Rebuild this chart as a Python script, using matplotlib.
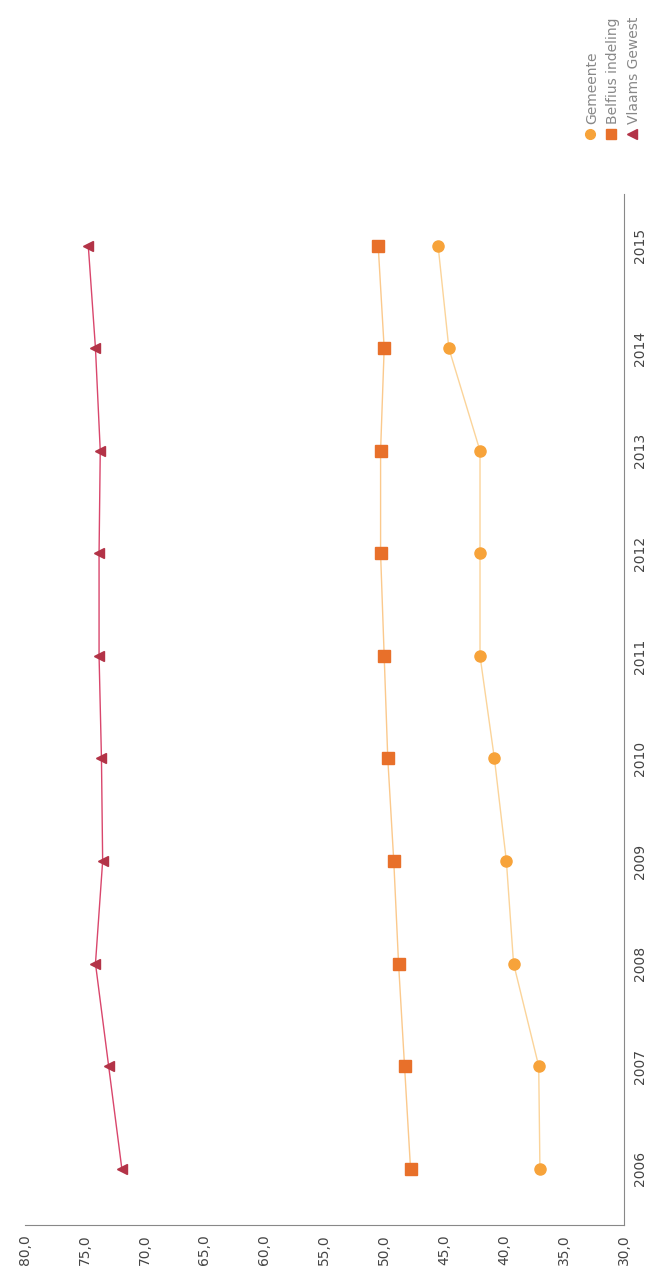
import matplotlib.pyplot as plt
from matplotlib.ticker import FixedLocator, FuncFormatter

# données (graphique tourné de 90°)
years = [2006, 2007, 2008, 2009, 2010, 2011, 2012, 2013, 2014, 2015]
gemeente = [37.0, 37.1, 39.2, 39.8, 40.8, 42.0, 42.0, 42.0, 44.6, 45.5]
belfius = [47.8, 48.3, 48.8, 49.2, 49.7, 50.0, 50.3, 50.3, 50.0, 50.5]
vlaams = [71.9, 73.0, 74.1, 73.5, 73.6, 73.8, 73.8, 73.7, 74.1, 74.7]
labels = ["Gemeente", "Belfius indeling", "Vlaams Gewest"]
value_ticks = [30, 35, 40, 45, 50, 55, 60, 65, 70, 75, 80]

fig = plt.figure(figsize=(6.7, 12.77), dpi=100)
ax = fig.add_axes([0.037, 0.0407, 0.894, 0.807])

ax.plot(gemeente, years, color='#fbd49a', lw=1.0, marker='o', ms=8,
        mfc='#f7a33a', mec='#f7a33a', zorder=3)
ax.plot(belfius, years, color='#fbc98c', lw=1.0, marker='s', ms=8,
        mfc='#e8702a', mec='#e8702a', zorder=3)
ax.plot(vlaams, years, color='#d9466c', lw=1.0, marker='<', ms=7,
        mfc='#b33347', mec='#b33347', zorder=3)

ax.set_xlim(80, 30)
ax.set_ylim(2005.45, 2015.5)

ax.xaxis.set_major_locator(FixedLocator(value_ticks))
ax.xaxis.set_major_formatter(FuncFormatter(lambda v, p: f"{v:.1f}".replace('.', ',')))
ax.set_yticks(years)
ax.yaxis.tick_right()

for lab in ax.get_xticklabels():
    lab.set_rotation(90)
    lab.set_va('top')
    lab.set_ha('center')
for lab in ax.get_yticklabels():
    lab.set_rotation(90)
    lab.set_va('center')
    lab.set_ha('left')

ax.tick_params(axis='both', length=0, labelsize=10, labelcolor='#444444',
               pad=7)
ax.spines['top'].set_visible(False)
ax.spines['left'].set_visible(False)
ax.spines['right'].set_color('#888888')
ax.spines['bottom'].set_color('#888888')

# légende (tournée)
markers = ['o', 's', '<']
mcols = ['#f7a33a', '#e8702a', '#b33347']
xs = [0.881, 0.912, 0.943]
for x, m, c, t in zip(xs, markers, mcols, labels):
    fig.add_artist(plt.Line2D([x], [0.895], marker=m, ms=7, color=c,
                              ls='none', transform=fig.transFigure))
    fig.text(x + 0.003, 0.903, t, rotation=90, ha='center', va='bottom',
             fontsize=10, color='#888888')

fig.savefig('out.png', dpi=100)
